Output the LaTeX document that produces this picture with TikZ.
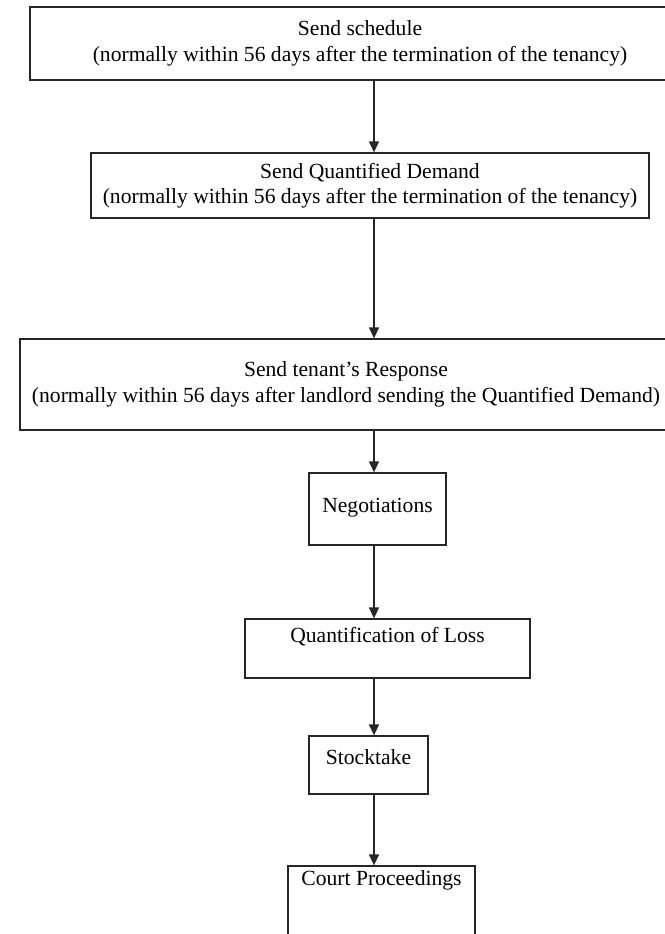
\documentclass[tikz,border=0pt]{standalone}
\usepackage{fontspec}
\setmainfont{Liberation Serif}
\usetikzlibrary{arrows.meta}
\begin{document}
\begin{tikzpicture}[x=1pt,y=-1pt,
  box/.style={draw=black!85, line width=1.3pt, inner sep=0pt, align=center,
    font=\fontsize{21.6}{25.5}\selectfont},
  arr/.style={draw=black!85, line width=1.3pt, -{Triangle[length=11pt,width=10pt]}}]
\useasboundingbox (0,0) rectangle (664,934);
\fill[white] (0,0) rectangle (664,934);
\coordinate (axis) at (374,0);
\node[box, minimum width=660pt, minimum height=73pt] (b1) at (360,43.5)
  {Send schedule\\(normally within 56 days after the termination of the tenancy)};
\node[box, minimum width=558pt, minimum height=65pt] (b2) at (370,185.5)
  {Send Quantified Demand\\(normally within 56 days after the termination of the tenancy)};
\node[box, minimum width=652pt, minimum height=91pt] (b3) at (346,384.5)
  {Send tenant's Response\\(normally within 56 days after landlord sending the Quantified Demand)};
\node[box, minimum width=137pt, minimum height=72pt, text height=39pt, text depth=33pt] (neg) at (377.5,509) {Negotiations};
\node[box, minimum width=285pt, minimum height=59pt, text height=23pt, text depth=36pt] (quant) at (387.5,648.5) {Quantification of Loss};
\node[box, minimum width=119pt, minimum height=58pt, text height=28pt, text depth=30pt] (stock) at (368.5,765) {Stocktake};
\node[box, minimum width=187pt, minimum height=100pt, text height=19pt, text depth=81pt] (court) at (381.5,916) {Court Proceedings};
\draw[arr] (b1.south -| axis) -- (b2.north -| axis);
\draw[arr] (b2.south -| axis) -- (b3.north -| axis);
\draw[arr] (b3.south -| axis) -- (neg.north -| axis);
\draw[arr] (neg.south -| axis) -- (quant.north -| axis);
\draw[arr] (quant.south -| axis) -- (stock.north -| axis);
\draw[arr] (stock.south -| axis) -- (court.north -| axis);
\end{tikzpicture}
\end{document}
